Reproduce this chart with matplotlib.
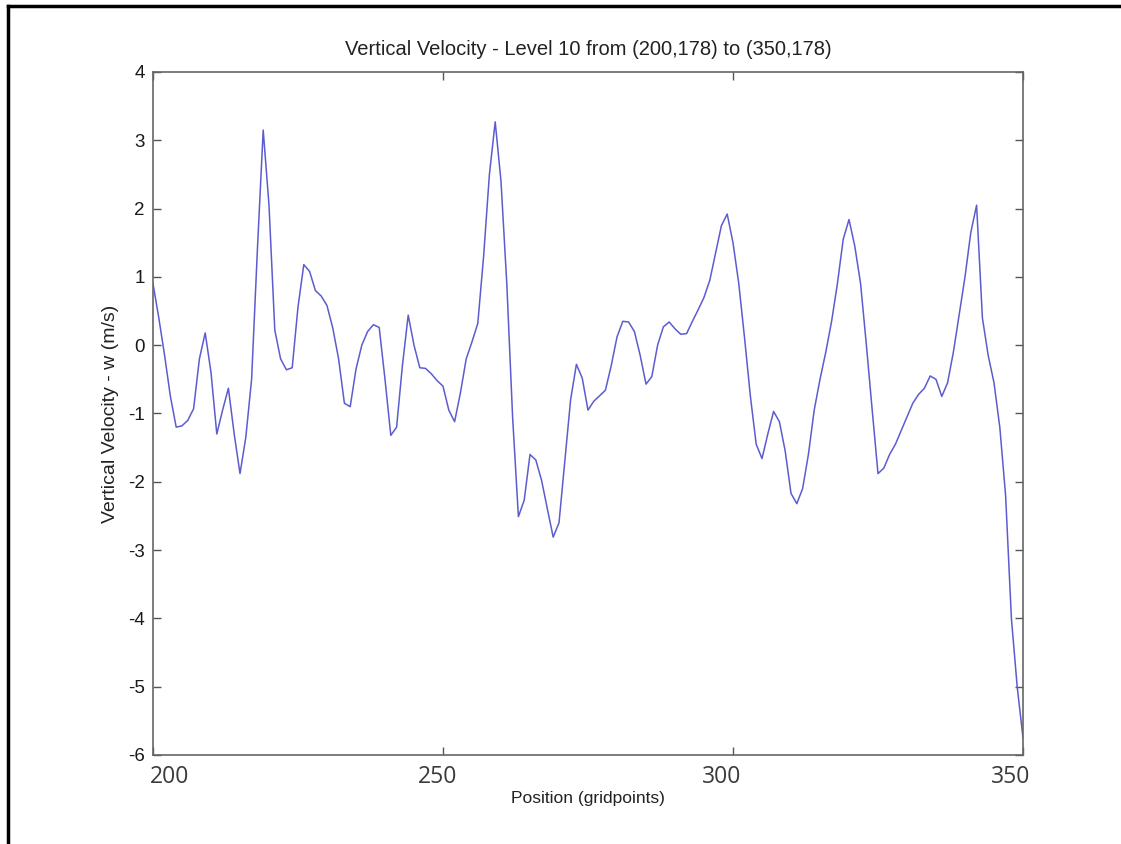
import matplotlib
matplotlib.use("Agg")
import matplotlib.pyplot as plt
import matplotlib.transforms as mtransforms
from matplotlib.lines import Line2D
import numpy as np

# Cross-section of vertical velocity along row 178, gridpoints 200..350
position = np.arange(200, 351)
w_velocity = [
    0.90, 0.40, -0.15, -0.75, -1.20, -1.18, -1.10, -0.93, -0.20, 0.18,   # 200-209
    -0.40, -1.30, -0.95, -0.63, -1.30, -1.88, -1.35, -0.50, 1.40, 3.15,  # 210-219
    2.05, 0.22, -0.20, -0.36, -0.33, 0.56, 1.18, 1.08, 0.80, 0.72,       # 220-229
    0.58, 0.25, -0.20, -0.85, -0.90, -0.35, 0.00, 0.20, 0.30, 0.26,      # 230-239
    -0.50, -1.32, -1.20, -0.30, 0.44, 0.00, -0.33, -0.34, -0.42, -0.52,  # 240-249
    -0.60, -0.95, -1.12, -0.70, -0.20, 0.05, 0.32, 1.30, 2.50, 3.27,     # 250-259
    2.40, 0.90, -1.05, -2.51, -2.27, -1.60, -1.68, -1.98, -2.40, -2.81,  # 260-269
    -2.60, -1.70, -0.80, -0.28, -0.48, -0.95, -0.82, -0.74, -0.66, -0.30,  # 270-279
    0.12, 0.35, 0.34, 0.20, -0.15, -0.57, -0.46, 0.00, 0.27, 0.34,       # 280-289
    0.24, 0.16, 0.17, 0.35, 0.52, 0.70, 0.95, 1.35, 1.75, 1.92,          # 290-299
    1.50, 0.90, 0.10, -0.75, -1.45, -1.66, -1.30, -0.97, -1.12, -1.55,   # 300-309
    -2.17, -2.32, -2.10, -1.60, -0.95, -0.50, -0.10, 0.35, 0.90, 1.55,   # 310-319
    1.84, 1.45, 0.90, 0.00, -0.95, -1.88, -1.80, -1.60, -1.45, -1.25,    # 320-329
    -1.05, -0.85, -0.72, -0.63, -0.45, -0.50, -0.75, -0.55, -0.10, 0.45,  # 330-339
    1.00, 1.65, 2.05, 0.40, -0.15, -0.55, -1.20, -2.20, -4.00, -5.00,    # 340-349
    -5.75,                                                               # 350
]

x_ticks = [200, 250, 300, 350]
y_ticks = [-6, -5, -4, -3, -2, -1, 0, 1, 2, 3, 4]

title_text = "Vertical Velocity - Level 10 from (200,178) to (350,178)"
x_label = "Position (gridpoints)"
y_label = "Vertical Velocity - w (m/s)"

plt.rcParams["font.family"] = ["Liberation Sans", "DejaVu Sans"]

fig = plt.figure(figsize=(11.21, 8.44), dpi=100)
ax = fig.add_axes([153 / 1121, 1 - 755 / 844, 870 / 1121, 683 / 844])

ax.plot(position, w_velocity, color="#5c5cd0", linewidth=1.1)

ax.set_xlim(200, 350)
ax.set_ylim(-6, 4)
ax.set_xticks(x_ticks)
ax.set_yticks(y_ticks)
ax.set_xticklabels([str(t) for t in x_ticks], fontsize=16.5,
                   family=["Open Sans", "DejaVu Sans"], color="#3a3a3a")
ax.set_yticklabels([str(t) for t in y_ticks], fontsize=13.5, color="#1a1a1a")

ax.tick_params(direction="in", length=6, width=1.0, color="#555555",
               top=True, right=True, pad=6)
ax.tick_params(axis="x", pad=7)
for spine in ax.spines.values():
    spine.set_color("#666666")
    spine.set_linewidth(1.2)

# Nudge the bottom tick labels sideways (offsets in points)
label_shifts = [12, -4, -8, -9]
for lbl, dx in zip(ax.get_xticklabels(), label_shifts):
    lbl.set_transform(lbl.get_transform() +
                      mtransforms.ScaledTranslation(dx / 72, 0, fig.dpi_scale_trans))

ax.set_title(title_text, fontsize=14.5, color="#222222", pad=12)
ax.set_xlabel(x_label, fontsize=12.5, color="#222222", labelpad=2)
ax.set_ylabel(y_label, fontsize=14, color="#222222", labelpad=6)

# Slide frame edges along the top and left of the canvas
fig.add_artist(Line2D([8 / 1121, 1.0], [1 - 6 / 844, 1 - 6 / 844],
                      transform=fig.transFigure, color="black", linewidth=2.5))
fig.add_artist(Line2D([8 / 1121, 8 / 1121], [0.0, 1 - 6 / 844],
                      transform=fig.transFigure, color="black", linewidth=2.5))

fig.savefig("out.png", dpi=100)
